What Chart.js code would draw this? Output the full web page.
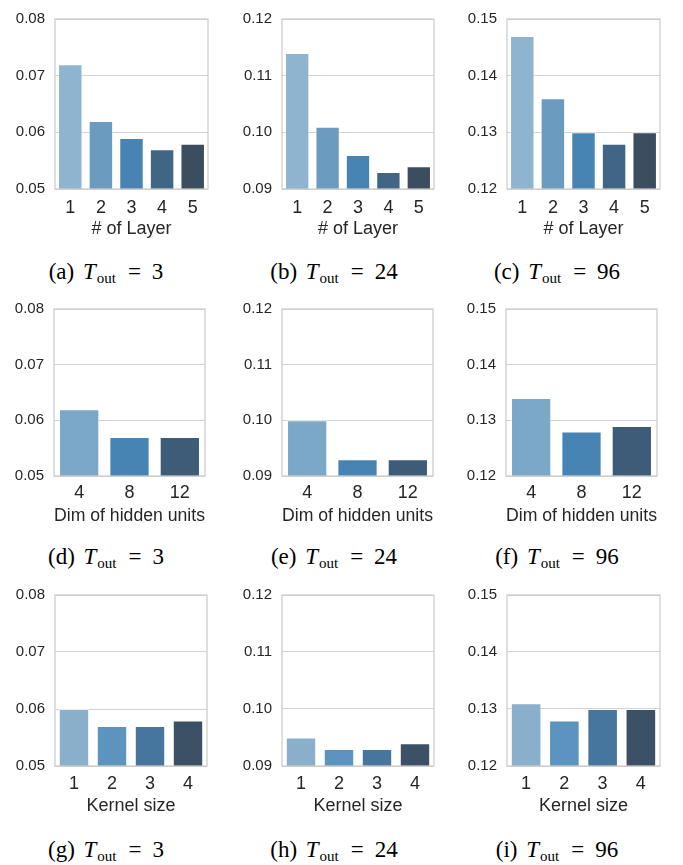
<!DOCTYPE html>
<html>
<head>
<meta charset="utf-8">
<script src="https://cdn.jsdelivr.net/npm/chart.js@4.4.0/dist/chart.umd.min.js"></script>
<style>
  body { margin: 0; background: #fff; width: 683px; height: 865px; position: relative; overflow: hidden; }
  .panel { position: absolute; }
  .cap {
    position: absolute; white-space: nowrap; transform: translate(-50%, -50%);
    font-family: "Liberation Serif", "Times New Roman", serif; font-size: 23px; color: #000;
  }
  .cap i { font-weight: normal; margin-left: 3px; margin-right: 1px; }
  .cap sub { font-size: 15px; vertical-align: -4px; line-height: 0; }
  .cap .eq { margin: 0 11px 0 12px; }
</style>
</head>
<body>
<script>
// x categories
const layerLabels = ["1", "2", "3", "4", "5"];
const hiddenLabels = ["4", "8", "12"];
const kernelLabels = ["1", "2", "3", "4"];

// series values (MSE) per T_out
const layerT3 = [0.072, 0.062, 0.059, 0.057, 0.058];
const layerT24 = [0.114, 0.101, 0.096, 0.093, 0.094];
const layerT96 = [0.147, 0.136, 0.130, 0.128, 0.130];
const hiddenT3 = [0.062, 0.057, 0.057];
const hiddenT24 = [0.100, 0.093, 0.093];
const hiddenT96 = [0.134, 0.128, 0.129];
const kernelT3 = [0.060, 0.057, 0.057, 0.058];
const kernelT24 = [0.095, 0.093, 0.093, 0.094];
const kernelT96 = [0.131, 0.128, 0.130, 0.130];

// y axis ranges
const yT3 = [0.05, 0.08];
const yT24 = [0.09, 0.12];
const yT96 = [0.12, 0.15];

const axisTitles = ["# of Layer", "Dim of hidden units", "Kernel size"];
const horizons = ["3", "24", "96"];

// seaborn Blues_d look-alike palettes
const palettes = {
  3: ["#7ba7c9", "#4884b3", "#3e5c77"],
  4: ["#8aafcb", "#5b94bf", "#46769e", "#3c5166"],
  5: ["#8fb4cf", "#6b9cc0", "#4884b3", "#416685", "#3b4d5e"]
};

// layout
const rows = [
  { top: 12, bottom: 189, tickPad: 8, cap: 272, cols: [[55, 208], [282, 434], [507, 660]] },
  { top: 302, bottom: 476, tickPad: 6, cap: 557, cols: [[54, 205], [282, 433], [506, 657]] },
  { top: 588, bottom: 766, tickPad: 7, cap: 850, cols: [[55, 207], [282, 434], [507, 660]] }
];
const capCenters = [106, 334, 557];

const panels = [
  [layerLabels, [layerT3, layerT24, layerT96]],
  [hiddenLabels, [hiddenT3, hiddenT24, hiddenT96]],
  [kernelLabels, [kernelT3, kernelT24, kernelT96]]
];
const yRanges = [yT3, yT24, yT96];
const letters = "abcdefghi";

const frame = {
  id: "frame",
  afterDatasetsDraw(chart) {
    const a = chart.chartArea, ctx = chart.ctx;
    ctx.save();
    ctx.strokeStyle = "#cccccc";
    ctx.lineWidth = 1.25;
    ctx.strokeRect(a.left, a.top, a.right - a.left, a.bottom - a.top);
    ctx.restore();
  }
};

const yFont = { family: "'Liberation Sans', Arial, sans-serif", size: 15 };
const xFont = { family: "'Liberation Sans', Arial, sans-serif", size: 18 };

rows.forEach((row, r) => {
  const [labels, series] = panels[r];
  row.cols.forEach(([pl, pr], c) => {
    const left = pl - 55, top = row.top - 12;
    const w = pr - left + 4, h = row.bottom - top + 51 + 2;
    const div = document.createElement("div");
    div.className = "panel";
    div.style.left = left + "px";
    div.style.top = top + "px";
    const cv = document.createElement("canvas");
    cv.width = w; cv.height = h;
    cv.style.width = w + "px"; cv.style.height = h + "px";
    div.appendChild(cv);
    document.body.appendChild(div);

    new Chart(cv, {
      type: "bar",
      data: {
        labels: labels,
        datasets: [{
          data: series[c],
          backgroundColor: palettes[labels.length],
          borderColor: "rgba(255,255,255,0.55)",
          borderWidth: 1,
          barPercentage: 0.8,
          categoryPercentage: 1.0
        }]
      },
      options: {
        responsive: false,
        animation: false,
        layout: { padding: { top: 12, right: 4, bottom: 2, left: 0 } },
        plugins: { legend: { display: false }, tooltip: { enabled: false }, title: { display: false } },
        scales: {
          x: {
            grid: { display: false, drawTicks: false },
            border: { display: false },
            ticks: { color: "#262626", font: xFont, padding: row.tickPad, maxRotation: 0 },
            title: { display: true, text: axisTitles[r], color: "#262626", font: xFont, padding: 0 },
            afterFit(s) { s.height = 51; }
          },
          y: {
            min: yRanges[c][0],
            max: yRanges[c][1],
            grid: { color: "#d2d2d2", lineWidth: 1, drawTicks: false },
            border: { display: false },
            ticks: {
              stepSize: 0.01, color: "#262626", font: yFont, padding: 10,
              callback: v => v.toFixed(2)
            },
            afterFit(s) { s.width = 55; }
          }
        }
      },
      plugins: [frame]
    });

    const cap = document.createElement("div");
    cap.className = "cap";
    cap.style.left = capCenters[c] + "px";
    cap.style.top = row.cap + "px";
    cap.innerHTML = "(" + letters[r * 3 + c] + ") <i>T</i><sub>out</sub><span class=\"eq\">=</span>" + horizons[c];
    document.body.appendChild(cap);
  });
});
</script>
</body>
</html>
